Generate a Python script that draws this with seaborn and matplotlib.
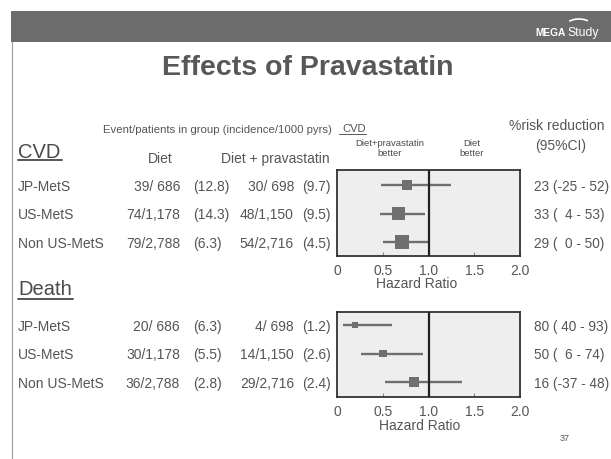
import numpy as np
import pandas as pd
import matplotlib
matplotlib.use("Agg")
import matplotlib.pyplot as plt
import seaborn as sns
from matplotlib.patches import Rectangle, Arc

# ---------------- data ----------------
groups = ["JP-MetS", "US-MetS", "Non US-MetS"]

cvd_diet_events = [39, 74, 79]
cvd_diet_n = [686, 1178, 2788]
cvd_diet_inc = ["12.8", "14.3", "6.3"]
cvd_prava_events = [30, 48, 54]
cvd_prava_n = [698, 1150, 2716]
cvd_prava_inc = ["9.7", "9.5", "4.5"]
cvd_hr = [0.77, 0.67, 0.71]
cvd_lo = [0.48, 0.47, 0.50]
cvd_hi = [1.25, 0.96, 1.00]
cvd_rr = [23, 33, 29]
cvd_rr_lo = [-25, 4, 0]
cvd_rr_hi = [52, 53, 50]

death_diet_events = [20, 30, 36]
death_diet_n = [686, 1178, 2788]
death_diet_inc = ["6.3", "5.5", "2.8"]
death_prava_events = [4, 14, 29]
death_prava_n = [698, 1150, 2716]
death_prava_inc = ["1.2", "2.6", "2.4"]
death_hr = [0.20, 0.50, 0.84]
death_lo = [0.07, 0.26, 0.52]
death_hi = [0.60, 0.94, 1.37]
death_rr = [80, 50, 16]
death_rr_lo = [40, 6, -37]
death_rr_hi = [93, 74, 48]

hr_ticks = [0, 0.5, 1.0, 1.5, 2.0]
hr_tick_labels = ["0", "0.5", "1.0", "1.5", "2.0"]

# ---------------- style ----------------
sns.set_style("white")
plt.rcParams["font.family"] = ["Liberation Sans", "DejaVu Sans"]

W, H = 611, 460
TXT = "#555555"
MARK = "#6f6f6f"

fig = plt.figure(figsize=(W / 100, H / 100), dpi=100)
bg = fig.add_axes([0, 0, 1, 1], zorder=0)
bg.set_xlim(0, W)
bg.set_ylim(H, 0)
bg.axis("off")


def txt(x, y, s, size=10, ha="left", va="baseline", color=TXT, **kw):
    bg.text(x, y, s, fontsize=size, ha=ha, va=va, color=color, **kw)


# header band + logo
bg.add_patch(Rectangle((11, 12), W - 11, 31, color="#6c6c6c", lw=0))
bg.plot([12, 12], [43, H], color="#9a9a9a", lw=0.8)
txt(566, 36, "MEGA", size=7.3, ha="right", color="white", weight="bold")
txt(567, 36, "Study", size=8.8, color="white")
# y axis of the overlay is inverted, so angles 210-330 give the upper arc
bg.add_patch(Arc((579, 27), 26, 14, theta1=205, theta2=330, color="white", lw=1.2))

# title
txt(308, 75, "Effects of Pravastatin", size=20.5, ha="center", weight="bold", color="#585858")

# column headers
txt(103, 133, "Event/patients in group (incidence/1000 pyrs)", size=8.2)
txt(342, 132, "CVD", size=8)
bg.plot([339, 366], [134.5, 134.5], color=TXT, lw=0.7)
txt(160, 163, "Diet", ha="center")
txt(275, 163, "Diet + pravastatin", ha="center")
txt(390, 146.5, "Diet+pravastatin", size=6.8, ha="center", color="#4a4a4a")
txt(390, 156.5, "better", size=6.8, ha="center", color="#4a4a4a")
txt(472, 146.5, "Diet", size=6.8, ha="center", color="#4a4a4a")
txt(472, 156.5, "better", size=6.8, ha="center", color="#4a4a4a")
txt(557, 130, "%risk reduction", ha="center")
txt(561, 150, "(95%CI)", ha="center")

# section headings
txt(18, 158, "CVD", size=14.5, color="#4a4a4a")
bg.plot([18, 62], [160.8, 160.8], color="#555555", lw=1.4)
txt(18, 295, "Death", size=14.5, color="#4a4a4a")
bg.plot([18, 73], [299.5, 299.5], color="#555555", lw=1.4)

txt(560, 441, "37", size=6.5)


def fmt_ev(e, n):
    return f"{e}/{n:,}" if n >= 1000 else f"{e}/ {n}"


def table(rows_y, de, dn, dinc, pe, pn, pinc, rr, rlo, rhi):
    for i, y in enumerate(rows_y):
        b = y + 5
        txt(18, b, groups[i])
        txt(180, b, fmt_ev(de[i], dn[i]), ha="right")
        txt(193, b, f"({dinc[i]})")
        txt(294, b, fmt_ev(pe[i], pn[i]), ha="right")
        txt(302, b, f"({pinc[i]})")
        lo = f"{rlo[i]}" if rlo[i] < 0 else f"  {rlo[i]}" if rlo[i] < 10 else f" {rlo[i]}"
        txt(534, b, f"{rr[i]} ({lo} - {rhi[i]})", size=9.8)


def forest(box, hr, lo, hi, events, ylim, label_xy):
    left, top, right, bottom = box
    ax = fig.add_axes([left / W, 1 - bottom / H, (right - left) / W, (bottom - top) / H], zorder=2)
    df = pd.DataFrame({"row": np.arange(len(hr)), "hr": hr, "lo": lo, "hi": hi, "ev": events})
    ax.set_facecolor("#eeeeee")
    ax.hlines(df["row"], df["lo"], df["hi"], color=MARK, lw=1.7, zorder=2)
    side = 1.2 * np.sqrt(df["ev"].to_numpy()) * 0.72
    sns.scatterplot(data=df, x="hr", y="row", marker="s", s=side ** 2, color=MARK,
                    edgecolor="none", linewidth=0, ax=ax, legend=False, zorder=3)
    ax.axvline(1.0, color="#222222", lw=1.6, zorder=4)
    ax.set_xlim(0, 2)
    ax.set_ylim(*ylim)
    ax.set_yticks([])
    ax.set_ylabel("")
    ax.set_xticks(hr_ticks, hr_tick_labels)
    ax.tick_params(axis="x", direction="in", length=3, width=0.8, color="#888888",
                   labelsize=10, labelcolor=TXT, pad=5.3, bottom=True)
    for sp in ax.spines.values():
        sp.set_visible(True)
        sp.set_color("#333333")
        sp.set_linewidth(1.3)
    ax.set_xlabel("Hazard Ratio", fontsize=10, color=TXT)
    ax.xaxis.set_label_coords(*label_xy)
    return ax


cvd_events = [a + b for a, b in zip(cvd_diet_events, cvd_prava_events)]
death_events = [a + b for a, b in zip(death_diet_events, death_prava_events)]

forest((337, 171, 520, 257), cvd_hr, cvd_lo, cvd_hi, cvd_events, (2.49, -0.526), (0.437, -0.237))
forest((337, 313, 520, 398), death_hr, death_lo, death_hi, death_events, (2.526, -0.456), (0.454, -0.252))

table([186, 214, 243], cvd_diet_events, cvd_diet_n, cvd_diet_inc, cvd_prava_events, cvd_prava_n,
      cvd_prava_inc, cvd_rr, cvd_rr_lo, cvd_rr_hi)
table([326, 354, 383], death_diet_events, death_diet_n, death_diet_inc, death_prava_events,
      death_prava_n, death_prava_inc, death_rr, death_rr_lo, death_rr_hi)

fig.savefig("out.png", dpi=100)
